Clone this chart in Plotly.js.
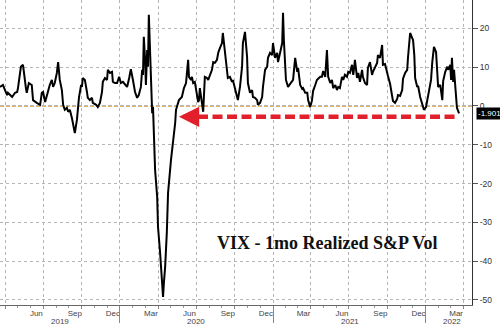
<!DOCTYPE html>
<html>
<head>
<meta charset="utf-8">
<script src="https://cdn.plot.ly/plotly-3.0.1.min.js"></script>
<style>html,body{margin:0;padding:0;background:#fff;}#chart{width:500px;height:326px;}</style>
</head>
<body>
<div id="chart"></div>
<script>
const dates = [
'2019-03-20','2019-03-27','2019-04-01','2019-04-06','2019-04-08','2019-04-18','2019-04-25','2019-04-30','2019-05-02','2019-05-09',
'2019-05-14','2019-05-16','2019-05-21','2019-05-23','2019-05-28','2019-06-04','2019-06-07','2019-06-16','2019-06-24','2019-06-28',
'2019-07-01','2019-07-06','2019-07-10','2019-07-17','2019-07-22','2019-07-25','2019-07-29','2019-08-03','2019-08-06','2019-08-10',
'2019-08-15','2019-08-18','2019-08-22','2019-08-27','2019-08-30','2019-09-03','2019-09-08','2019-09-11','2019-09-15','2019-09-20',
'2019-09-22','2019-09-25','2019-09-30','2019-10-02','2019-10-04','2019-10-09','2019-10-14','2019-10-16','2019-10-21','2019-10-26',
'2019-10-28','2019-11-05','2019-11-09','2019-11-14','2019-11-19','2019-11-21','2019-11-26','2019-12-01','2019-12-03','2019-12-08',
'2019-12-13','2019-12-15','2019-12-20','2019-12-25','2019-12-30',
'2020-01-03','2020-01-08','2020-01-13','2020-01-18','2020-01-23','2020-01-27','2020-02-01','2020-02-06','2020-02-11','2020-02-15',
'2020-02-20','2020-02-23','2020-02-25','2020-02-27','2020-03-01','2020-03-03','2020-03-06','2020-03-08','2020-03-10','2020-03-13',
'2020-03-15','2020-03-18','2020-03-20','2020-03-22','2020-03-25','2020-03-30','2020-04-01','2020-04-06','2020-04-11','2020-04-13',
'2020-04-15','2020-04-18','2020-04-22','2020-04-25','2020-05-02','2020-05-07','2020-05-09','2020-05-12','2020-05-14','2020-05-16',
'2020-05-21','2020-05-28','2020-05-31','2020-06-02','2020-06-07','2020-06-12','2020-06-14','2020-06-19','2020-06-21','2020-06-24',
'2020-06-28','2020-07-03','2020-07-06','2020-07-08','2020-07-10','2020-07-15','2020-07-18','2020-07-22','2020-07-27','2020-07-30',
'2020-08-03','2020-08-08','2020-08-11','2020-08-15','2020-08-20','2020-08-23','2020-08-27','2020-09-01','2020-09-03','2020-09-08',
'2020-09-13','2020-09-15','2020-09-20','2020-09-25','2020-09-27','2020-10-02','2020-10-07','2020-10-09','2020-10-14','2020-10-19',
'2020-10-21','2020-10-26','2020-10-31','2020-11-02','2020-11-07','2020-11-12','2020-11-14','2020-11-19','2020-11-24','2020-11-26',
'2020-12-01','2020-12-06','2020-12-08','2020-12-13','2020-12-18','2020-12-20','2020-12-25','2020-12-30',
'2021-01-01','2021-01-06','2021-01-11','2021-01-13','2021-01-18','2021-01-23','2021-01-25','2021-01-27','2021-02-01','2021-02-06',
'2021-02-11','2021-02-18','2021-02-23','2021-02-28','2021-03-02','2021-03-07','2021-03-12','2021-03-14','2021-03-19','2021-03-24',
'2021-03-26','2021-03-31','2021-04-04','2021-04-07','2021-04-12','2021-04-16','2021-04-19','2021-04-24','2021-04-28','2021-05-01',
'2021-05-06','2021-05-10','2021-05-13','2021-05-18','2021-05-22','2021-05-25','2021-05-30','2021-06-03','2021-06-06','2021-06-10',
'2021-06-15','2021-06-18','2021-06-22','2021-06-27','2021-06-30','2021-07-04','2021-07-09','2021-07-12','2021-07-14','2021-07-16',
'2021-07-21','2021-07-24','2021-07-28','2021-08-02','2021-08-04','2021-08-09','2021-08-14','2021-08-16','2021-08-21','2021-08-26',
'2021-08-28','2021-09-02','2021-09-07','2021-09-09','2021-09-14','2021-09-19','2021-09-21','2021-09-26','2021-10-01','2021-10-03',
'2021-10-08','2021-10-13','2021-10-15','2021-10-20','2021-10-25','2021-10-27','2021-11-01','2021-11-06','2021-11-08','2021-11-13',
'2021-11-18','2021-11-20','2021-11-25','2021-11-30','2021-12-02','2021-12-05','2021-12-07','2021-12-12','2021-12-14','2021-12-19',
'2021-12-24','2021-12-28',
'2022-01-02','2022-01-05','2022-01-09','2022-01-14','2022-01-17','2022-01-21','2022-01-26','2022-01-29','2022-01-31','2022-02-05',
'2022-02-10','2022-02-12','2022-02-17','2022-02-22','2022-02-24','2022-03-01','2022-03-03','2022-03-05','2022-03-08','2022-03-10',
'2022-03-15','2022-03-17','2022-03-22'
];
const values = [
4.9,5.4,4.1,2.8,3.4,2.3,3.4,3.6,4.6,10.1,
10.6,8.5,4.6,3.4,5.9,5.4,1.5,0.8,0.3,3.4,
3.6,1.0,2.8,5.4,6.7,4.9,5.9,8.5,11.3,6.7,
4.1,0.3,-1.0,-0.5,-1.5,-1.0,-3.1,-4.9,-7.0,-3.6,
-1.0,2.3,5.4,4.9,7.2,6.7,3.6,2.1,1.5,2.1,
0.8,0.3,-0.3,0.8,3.6,6.2,7.2,6.7,9.3,8.5,
8.8,6.2,5.9,5.9,7.5,
5.9,6.2,5.4,4.9,7.2,9.5,6.7,3.6,2.1,2.8,
4.9,9.3,8.0,17.8,11.9,5.4,14.4,10.1,23.5,11.9,
5.9,-1.9,-0.3,-9.5,-16.5,-23.5,-31.2,-37.9,-44.8,-49.2,
-45.6,-41.5,-32.7,-22.4,-13.9,-9.5,-7.0,-4.4,-1.0,-0.3,
1.5,2.3,4.1,4.6,5.9,11.9,7.5,6.7,7.5,5.9,
6.2,2.3,1.0,1.5,4.6,0.8,-1.5,7.5,7.2,6.7,
8.0,9.3,11.3,11.1,11.9,13.7,14.9,16.2,18.8,14.4,
9.3,7.2,7.5,6.2,6.7,4.6,2.3,1.5,4.9,10.1,
16.2,19.1,12.6,5.9,3.4,4.1,2.3,2.1,1.5,0.3,
0.8,2.3,4.9,9.3,10.1,12.4,13.7,13.1,
16.2,12.4,13.7,11.3,13.7,16.2,24.0,17.0,6.7,4.9,
5.7,6.7,12.4,8.8,9.8,5.4,4.4,4.6,3.4,3.4,
1.5,-0.3,1.3,3.9,5.4,6.7,7.0,7.5,7.5,9.0,
7.5,14.4,7.5,5.9,6.7,4.6,5.4,4.1,4.9,4.6,
7.5,6.7,8.0,7.5,8.8,8.5,10.6,8.0,9.8,11.9,
7.2,8.5,6.2,9.3,7.5,5.9,5.4,9.8,11.3,8.0,
8.8,10.1,11.1,13.1,12.4,15.7,10.6,10.8,8.0,7.7,
5.7,3.1,1.3,0.8,1.8,2.8,2.6,4.1,7.0,8.5,
9.3,12.6,18.8,17.5,17.0,13.1,7.2,4.9,5.2,2.3,
0.0,-1.0,
-0.3,1.5,3.6,6.7,11.3,15.2,13.9,9.3,4.9,5.4,
1.5,6.4,8.8,10.1,9.3,10.6,6.7,12.4,6.2,9.3,
2.1,-0.5,-1.9018
];

const monthTickVals = ['2019-06-15','2019-09-15','2019-12-15','2020-03-15','2020-06-15','2020-09-15','2020-12-15','2021-03-15','2021-06-15','2021-09-15','2021-12-15','2022-03-15'];
const monthTickText = ['Jun','Sep','Dec','Mar','Jun','Sep','Dec','Mar','Jun','Sep','Dec','Mar'];
const yearBoundaries = ['2020-01-01','2021-01-01','2022-01-01'];
const yearLabels = ['2019','2020','2021','2022'];
const yearLabelPos = ['2019-08-10','2020-07-02','2021-07-03','2022-03-05'];
const yTickVals = [20,10,0,-10,-20,-30,-40,-50];
const yTickText = ['20','10','0','-10','-20','-30','-40','-50'];
const lastValue = -1.9018;
const arrowLevel = -2.8;
const arrowTip = '2020-05-21';
const arrowStart = '2020-06-01';
const arrowEnd = '2022-03-20';
const chartLabel = 'VIX - 1mo Realized S&P Vol';
const footer = 'Australia 61 2 9777 8600 Brazil 5511 2395 9000 Europe 44 20 7330 7500 Germany 49 69 9204 1210 Hong Kong 852 2977 6000';

const xRange = ['2019-03-20','2022-04-22'];
const yRange = [-51.3, 27.3];
const tickFont = {family:'Liberation Sans, Arial, sans-serif', size:8, color:'#444'};

const traces = [
  {x: dates, y: values, type:'scatter', mode:'lines', line:{color:'#000', width:2}, hoverinfo:'skip', xaxis:'x', yaxis:'y'},
  {x: [arrowStart, arrowEnd], y: [arrowLevel, arrowLevel], type:'scatter', mode:'lines',
   line:{color:'#E2202B', width:4.5, dash:'10px,4.5px'}, hoverinfo:'skip', xaxis:'x', yaxis:'y'}
];

const annotations = yearLabels.map((t,i)=>({
  text:t, x:yearLabelPos[i], xref:'x', y:-0.053, yref:'paper', showarrow:false,
  xanchor:'center', yanchor:'middle', font:tickFont
}));
annotations.push({
  text:chartLabel, xref:'paper', yref:'paper', x:0.693, y:0.203, showarrow:false,
  xanchor:'center', yanchor:'middle',
  font:{family:'Liberation Serif, Times New Roman, serif', size:18, color:'#111', weight:'bold'}
});
annotations.push({
  text:String(lastValue), xref:'paper', x:1, xanchor:'left', xshift:4, y:lastValue, yref:'y',
  showarrow:false, bgcolor:'#000', font:{family:'Liberation Sans, Arial, sans-serif', size:8, color:'#fff'}, borderpad:1
});
annotations.push({
  text:'', x:arrowTip, y:arrowLevel, xref:'x', yref:'y', ax:16, ay:0, showarrow:true,
  arrowhead:2, arrowsize:0.9, arrowwidth:4.5, arrowcolor:'#E2202B'
});
annotations.push({
  text:footer, xref:'paper', yref:'paper', x:0.52, y:-0.08, xanchor:'center', yanchor:'top', yshift:2,
  showarrow:false, font:{family:'Liberation Sans, Arial, sans-serif', size:6, color:'#555'}
});

const layout = {
  width:500, height:326,
  margin:{l:0, r:28, t:0, b:21},
  paper_bgcolor:'#fff', plot_bgcolor:'#fff',
  showlegend:false,
  xaxis:{type:'date', range:xRange, tickmode:'array', tickvals:monthTickVals, ticktext:monthTickText,
    ticks:'', showgrid:false, zeroline:false, showline:true, linecolor:'#666', linewidth:1,
    tickfont:tickFont, ticklabelstandoff:0, fixedrange:true},
  xaxis2:{type:'date', range:xRange, overlaying:'x', anchor:'y', side:'bottom',
    tickmode:'linear', tick0:'2019-01-01', dtick:'M3', showticklabels:false,
    ticks:'outside', ticklen:3, tickcolor:'#888',
    showgrid:true, gridcolor:'#b5b5b5', griddash:'dot', gridwidth:1,
    minor:{ticks:'outside', ticklen:2, dtick:'M1', tick0:'2019-01-01', tickcolor:'#999', showgrid:false},
    zeroline:false, showline:false},
  xaxis3:{type:'date', range:xRange, overlaying:'x', anchor:'y', side:'bottom',
    tickmode:'array', tickvals:yearBoundaries, showticklabels:false,
    ticks:'outside', ticklen:17, tickcolor:'#888', showgrid:false, zeroline:false, showline:false},
  yaxis:{side:'right', range:yRange, tickmode:'array', tickvals:yTickVals, ticktext:yTickText,
    ticks:'outside', ticklen:5, tickcolor:'#555', tickfont:{family:'Liberation Sans, Arial, sans-serif', size:8.5, color:'#333'},
    showgrid:true, gridcolor:'#b5b5b5', griddash:'dot', gridwidth:1,
    zeroline:false, showline:true, linecolor:'#333', linewidth:1, fixedrange:true},
  shapes:[
    {type:'line', xref:'paper', x0:0, x1:1, yref:'y', y0:0, y1:0,
     line:{color:'#E39A2E', width:1.6, dash:'4px,2px'}, layer:'below'}
  ],
  annotations: annotations
};

traces.push({x:[xRange[0]], y:[null], xaxis:'x2', yaxis:'y', type:'scatter', mode:'lines', hoverinfo:'skip'});
traces.push({x:[xRange[0]], y:[null], xaxis:'x3', yaxis:'y', type:'scatter', mode:'lines', hoverinfo:'skip'});

Plotly.newPlot('chart', traces, layout, {staticPlot:true, displayModeBar:false});
</script>
</body>
</html>
